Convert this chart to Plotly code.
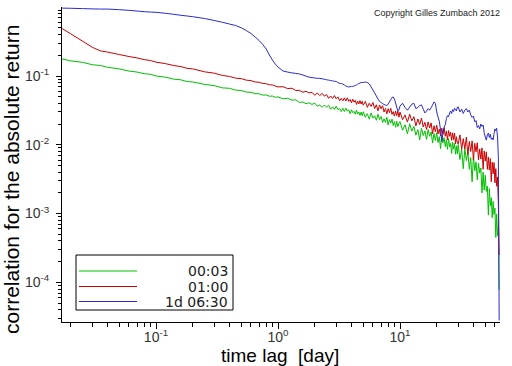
import plotly.graph_objects as go

# time lag in days (shared grid)
lag_days = [0.017, 0.02, 0.025, 0.03, 0.035, 0.04, 0.05, 0.06, 0.07, 0.08, 0.09, 0.1,
            0.12, 0.14, 0.16, 0.18, 0.2, 0.25, 0.3, 0.35, 0.4, 0.45, 0.5, 0.55, 0.6,
            0.65, 0.7, 0.75, 0.8, 0.85, 0.9, 0.95,
            1.0, 1.1, 1.2, 1.3, 1.4, 1.5, 1.6, 1.7, 1.8, 1.9, 2.0, 2.1, 2.2, 2.3, 2.4,
            2.5, 2.6, 2.7, 2.8, 2.9, 3.0, 3.1, 3.2, 3.3, 3.4, 3.5, 3.6, 3.7, 3.8, 3.9,
            4.0, 4.1, 4.2, 4.3, 4.4, 4.5, 4.6, 4.7, 4.8, 4.9,
            5.0, 5.2, 5.4, 5.6, 5.8, 6.0, 6.2, 6.4, 6.6, 6.8, 7.0, 7.2, 7.4, 7.6, 7.8,
            8.0, 8.2, 8.4, 8.6, 8.8, 9.0, 9.2, 9.4, 9.6, 9.8,
            10.0, 10.5, 11.0, 11.5, 12.0, 12.5, 13.0, 13.5, 14.0, 14.5, 15.0, 15.5,
            16.0, 16.5, 17.0, 17.5, 18.0, 18.5, 19.0, 19.5, 20.0, 20.5, 21.0, 21.5,
            22.0, 22.5, 23.0, 23.5, 24.0, 24.5, 25.0, 25.5, 26.0, 26.5, 27.0, 27.5,
            28.0, 28.5, 29.0, 29.5,
            30, 31, 32, 33, 34, 35, 36, 37, 38, 39, 40, 41, 42, 43, 44, 45, 46, 47,
            48, 49, 50, 51, 52, 53, 54, 55, 56, 57, 58, 59, 60, 61, 62, 63, 64, 65]

corr_0003 = [0.177, 0.166, 0.158, 0.146, 0.142, 0.134, 0.127, 0.118, 0.114, 0.108, 0.106, 0.100,
             0.096, 0.090, 0.088, 0.083, 0.082, 0.0755, 0.0725, 0.0672, 0.0662, 0.0622, 0.0616,
             0.0583, 0.0580, 0.0553, 0.0552, 0.0528, 0.0530, 0.0508, 0.0512, 0.0490,
             0.0497, 0.0466, 0.0474, 0.0446, 0.0450, 0.0412, 0.0419, 0.0395, 0.0407, 0.0386,
             0.0404, 0.0364, 0.0378, 0.0351, 0.0379, 0.0352, 0.0376, 0.0329, 0.0356, 0.0327,
             0.0364, 0.0324, 0.0338, 0.0304, 0.0340, 0.0305, 0.0340, 0.0309, 0.0323, 0.0283,
             0.0323, 0.0293, 0.0306, 0.0279, 0.0319, 0.0280, 0.0299, 0.0267, 0.0299, 0.0265,
             0.0302, 0.0251, 0.0283, 0.0236, 0.0290, 0.0244, 0.0264, 0.0227, 0.0278, 0.0233,
             0.0258, 0.0211, 0.0239, 0.0212, 0.0250, 0.0194, 0.0232, 0.0207, 0.0236, 0.0191,
             0.0217, 0.0180, 0.0219, 0.0184, 0.0204,
             0.0217, 0.0163, 0.0196, 0.0144, 0.0202, 0.0158, 0.0185, 0.0138, 0.0166, 0.0118,
             0.0174, 0.0136, 0.0160, 0.0120, 0.0166, 0.0133, 0.0154, 0.0106, 0.0146, 0.0116,
             0.0150, 0.0108, 0.0131, 0.0088, 0.0136, 0.0107, 0.0127, 0.0094, 0.0118, 0.0086,
             0.0123, 0.0093, 0.0105, 0.0075, 0.0109, 0.0087, 0.0105, 0.0073, 0.0096, 0.0074,
             0.0101, 0.0061, 0.0086, 0.0045, 0.0088, 0.0059, 0.0078, 0.0044, 0.0065, 0.0029,
             0.0068, 0.0042, 0.0056, 0.0031, 0.0054, 0.0039, 0.0046, 0.0020, 0.0040, 0.0022,
             0.0036, 0.0021, 0.0025, 0.00095, 0.0023, 0.0013, 0.0017, 0.00087, 0.0015, 0.00097,
             0.0012, 0.00045, 0.00098, 0.00048, 0.00064, 0.000078]

corr_0100 = [0.490, 0.410, 0.321, 0.262, 0.232, 0.223, 0.205, 0.192, 0.183, 0.173, 0.168, 0.159,
             0.151, 0.142, 0.137, 0.129, 0.127, 0.115, 0.110, 0.102, 0.0985, 0.0930, 0.0915,
             0.0870, 0.0858, 0.0818, 0.0812, 0.0780, 0.0772, 0.0745, 0.0742, 0.0715,
             0.0694, 0.0698, 0.0656, 0.0664, 0.0615, 0.0619, 0.0581, 0.0598, 0.0568, 0.0580,
             0.0525, 0.0566, 0.0519, 0.0559, 0.0509, 0.0537, 0.0474, 0.0512, 0.0471, 0.0519,
             0.0465, 0.0498, 0.0436, 0.0473, 0.0436, 0.0481, 0.0432, 0.0482, 0.0429, 0.0456,
             0.0408, 0.0460, 0.0417, 0.0444, 0.0386, 0.0430, 0.0392, 0.0439, 0.0391, 0.0428,
             0.0377, 0.0427, 0.0350, 0.0402, 0.0362, 0.0412, 0.0336, 0.0382, 0.0312, 0.0379,
             0.0333, 0.0370, 0.0300, 0.0336, 0.0282, 0.0335, 0.0293, 0.0339, 0.0277, 0.0303,
             0.0261, 0.0309, 0.0265, 0.0309, 0.0252,
             0.0298, 0.0232, 0.0271, 0.0214, 0.0278, 0.0223, 0.0256, 0.0188, 0.0237, 0.0197,
             0.0244, 0.0182, 0.0212, 0.0167, 0.0215, 0.0175, 0.0208, 0.0145, 0.0189, 0.0155,
             0.0192, 0.0144, 0.0169, 0.0134, 0.0175, 0.0142, 0.0177, 0.0133, 0.0158, 0.0118,
             0.0161, 0.0133, 0.0152, 0.0116, 0.0149, 0.0119, 0.0148, 0.0104, 0.0131, 0.0107,
             0.0103, 0.0139, 0.0086, 0.0123, 0.0087, 0.0129, 0.0072, 0.0112, 0.0080, 0.0114,
             0.0060, 0.0105, 0.0079, 0.0107, 0.0060, 0.0087, 0.0062, 0.0090, 0.0044, 0.0081,
             0.0058, 0.0079, 0.0044, 0.0066, 0.0043, 0.0063, 0.0029, 0.0056, 0.0038, 0.0055,
             0.0028, 0.0045, 0.0025, 0.0034, 0.0014, 0.00025]

corr_1d0630 = [0.97, 0.965, 0.955, 0.945, 0.94, 0.94, 0.92, 0.90, 0.88, 0.86, 0.85, 0.843,
               0.815, 0.788, 0.763, 0.745, 0.728, 0.685, 0.641, 0.604, 0.570, 0.542, 0.502,
               0.458, 0.415, 0.369, 0.328, 0.287, 0.247, 0.202, 0.171, 0.149,
               0.135, 0.118, 0.114, 0.111, 0.109, 0.107, 0.1035, 0.0993, 0.0961, 0.0948,
               0.0935, 0.0926, 0.0923, 0.091, 0.0898, 0.0881, 0.0871, 0.086, 0.0849, 0.0837,
               0.0832, 0.0802, 0.0783, 0.0776, 0.0765, 0.074, 0.0716, 0.0702, 0.0692, 0.0699,
               0.0704, 0.0704, 0.0716, 0.0728, 0.074, 0.076, 0.0778, 0.0791, 0.0802, 0.0807,
               0.0805, 0.0818, 0.0805, 0.0765, 0.0692, 0.0626, 0.0566, 0.0512, 0.0463, 0.0426,
               0.0412, 0.0398, 0.0385, 0.0379, 0.0372, 0.0392, 0.0419, 0.0455, 0.0487, 0.0495,
               0.0463, 0.0405, 0.0354, 0.031, 0.0320,
               0.0365, 0.0402, 0.0350, 0.0318, 0.0352, 0.0390, 0.0400, 0.0335, 0.0350, 0.0372,
               0.0380, 0.0330, 0.0290, 0.0310, 0.0335, 0.0318, 0.0345, 0.0380, 0.0420, 0.0400,
               0.0300, 0.0254, 0.0220, 0.0165, 0.0112, 0.0150, 0.0180, 0.0196, 0.0240, 0.0265,
               0.0255, 0.0290, 0.0310, 0.0285, 0.0325, 0.0305, 0.0340, 0.0330, 0.0310, 0.0352,
               0.0356, 0.0300, 0.0330, 0.0285, 0.0320, 0.0335, 0.0300, 0.0320, 0.0270, 0.0250,
               0.0262, 0.0215, 0.0225, 0.0178, 0.0190, 0.0170, 0.0200, 0.0185, 0.0194, 0.0150,
               0.0130, 0.0117, 0.0140, 0.0148, 0.0128, 0.0142, 0.0120, 0.0126, 0.0118, 0.0145,
               0.0170, 0.0160, 0.0174, 0.0130, 0.0066, 0.000028]

series_names = ["00:03", "01:00", "1d 06:30"]
series_colors = ["#00c000", "#cc0000", "#2a2ad0"]

x_tickvals = [0.1, 1, 10]
x_ticktext = ["10<sup>-1</sup>", "10<sup>0</sup>", "10<sup>1</sup>"]
y_tickvals = [1e-4, 1e-3, 1e-2, 1e-1]
y_ticktext = ["10<sup>-4</sup>", "10<sup>-3</sup>", "10<sup>-2</sup>", "10<sup>-1</sup>"]
x_minor = [m * 10.0 ** e for e in range(-2, 2) for m in range(2, 10)]
y_minor = [m * 10.0 ** e for e in range(-5, 0) for m in range(2, 10)]

x_title = "time lag\u00a0\u00a0[day]"
y_title = "correlation for the absolute return"
copyright_text = "Copyright Gilles Zumbach 2012"

FONT = "Liberation Sans, Arial, sans-serif"

fig = go.Figure()
for name, vals, col in zip(series_names, [corr_0003, corr_0100, corr_1d0630], series_colors):
    fig.add_trace(go.Scatter(x=lag_days, y=vals, mode="lines", name=name,
                             line=dict(color=col, width=1, simplify=False),
                             showlegend=False, hoverinfo="skip"))

# pixel helpers for the fixed plot area
PL, PR, PT, PB = 62, 500, 7, 322
def px_x(p):
    return (p - PL) / (PR - PL)
def px_y(p):
    return (PB - p) / (PB - PT)

# hand-drawn legend box (labels right-aligned as in the reference)
shapes = [dict(type="rect", xref="paper", yref="paper",
               x0=px_x(76), x1=px_x(233), y0=px_y(310), y1=px_y(255),
               line=dict(color="black", width=1), fillcolor="white", layer="above")]
annotations = []
row_y = [271, 286.5, 301.5]
for name, col, ry in zip(series_names, series_colors, row_y):
    shapes.append(dict(type="line", xref="paper", yref="paper",
                       x0=px_x(79), x1=px_x(137), y0=px_y(ry), y1=px_y(ry),
                       line=dict(color=col, width=1), layer="above"))
    annotations.append(dict(text=name, xref="paper", yref="paper", x=px_x(230), y=px_y(ry),
                            xanchor="right", yanchor="middle", showarrow=False,
                            font=dict(family="DejaVu Sans, sans-serif", size=14, color="#222")))
annotations.append(dict(text=copyright_text, xref="paper", yref="paper",
                        x=px_x(502), y=px_y(13), xanchor="right", yanchor="middle",
                        showarrow=False, font=dict(family=FONT, size=9, color="#222")))
# axis titles
annotations.append(dict(text=x_title, xref="paper", yref="paper", x=px_x(280), y=px_y(355),
                        xanchor="center", yanchor="middle", showarrow=False,
                        font=dict(family=FONT, size=19, color="black")))
annotations.append(dict(text=y_title, xref="paper", yref="paper", x=px_x(11), y=px_y(180),
                        xanchor="center", yanchor="middle", showarrow=False, textangle=-90,
                        font=dict(family=FONT, size=21, color="black")))

axis_common = dict(type="log", showline=True, linecolor="black", linewidth=1,
                   ticks="outside", tickcolor="black", showgrid=False, zeroline=False,
                   mirror=False, tickmode="array", automargin=False,
                   tickfont=dict(family=FONT, size=14, color="#333"))

fig.update_layout(
    template="none",
    width=512, height=366,
    margin=dict(l=PL, r=512 - PR, t=PT, b=366 - PB, pad=0),
    plot_bgcolor="white", paper_bgcolor="white",
    xaxis=dict(axis_common, range=[-1.7705, 1.8197], tickvals=x_tickvals, ticktext=x_ticktext,
               ticklen=6, ticklabelstandoff=-4,
               minor=dict(tickvals=x_minor, ticks="outside", ticklen=4, tickcolor="black",
                          showgrid=False)),
    yaxis=dict(axis_common, range=[-4.576, 0.003], tickvals=y_tickvals, ticktext=y_ticktext,
               ticklen=5, ticklabelstandoff=4,
               minor=dict(tickvals=y_minor, ticks="outside", ticklen=3, tickcolor="black",
                          showgrid=False)),
    shapes=shapes, annotations=annotations,
    showlegend=False,
)

fig.write_html("out.html", config={"displayModeBar": False},
               post_script="document.body.style.margin='0';document.body.style.padding='0';")
